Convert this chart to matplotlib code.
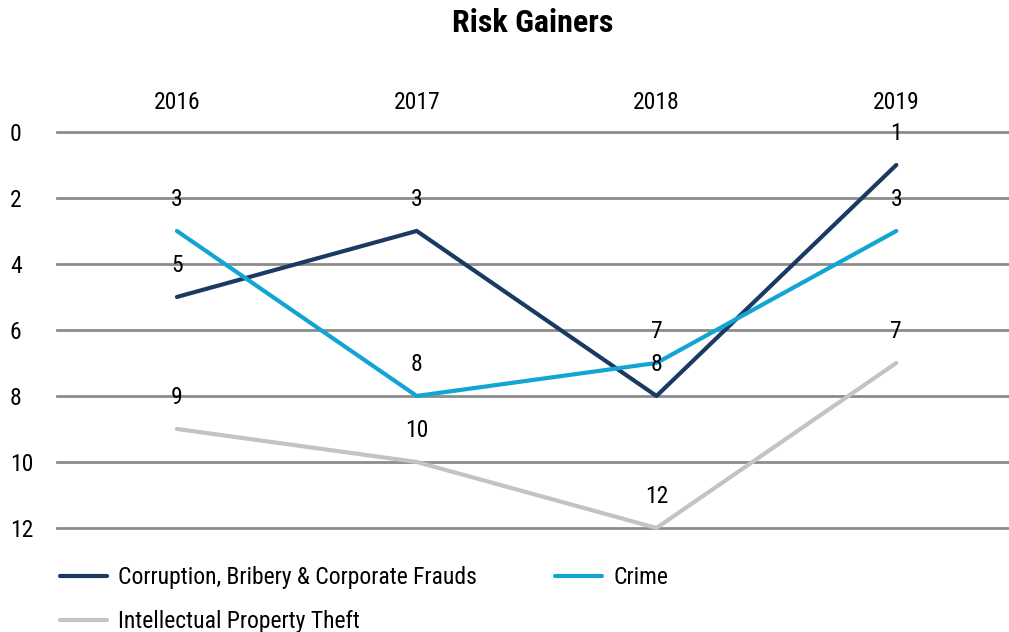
import numpy as np
import matplotlib
matplotlib.use('Agg')
import matplotlib.pyplot as plt
from matplotlib import font_manager

# pick a narrow/condensed face if one is installed
fam, stretch = 'Roboto', 'normal'
for f in font_manager.fontManager.ttflist:
    if f.name in ('Roboto Condensed', 'Liberation Sans Narrow'):
        fam, stretch = f.name, 'normal'
        break
else:
    for f in font_manager.fontManager.ttflist:
        if f.name == 'DejaVu Sans' and 'condensed' in str(f.stretch):
            fam, stretch = 'DejaVu Sans', 'condensed'
            break
plt.rcParams['font.family'] = [fam, 'DejaVu Sans']
plt.rcParams['font.stretch'] = stretch
narrow = fam != 'Roboto'
fs = 17 if narrow else 15.5

years = ['2016', '2017', '2018', '2019']
corruption = [5, 3, 8, 1]
crime = [3, 8, 7, 3]
ip_theft = [9, 10, 12, 7]
series_names = ['Corruption, Bribery & Corporate Frauds', 'Crime', 'Intellectual Property Theft']
colors = ['#1b3a63', '#12a5d3', '#c3c3c7']

fig = plt.figure(figsize=(10.09, 6.32), dpi=100)
ax = fig.add_axes([0.0565, 0.1646, 0.9435, 0.6266])

x = np.arange(len(years))
lines = []
for vals, name, c in zip([corruption, crime, ip_theft], series_names, colors):
    ln, = ax.plot(x, vals, color=c, lw=3, label=name, solid_capstyle='round', zorder=3)
    ln.set_clip_on(False)
    lines.append(ln)
    for xi, v in zip(x, vals):
        ax.annotate(str(v), (xi, v), xytext=(0, 23), textcoords='offset points',
                    ha='center', va='center', fontsize=fs, zorder=4)

ax.set_xlim(-0.5, 3.47)
ax.set_ylim(12, 0)
ax.set_yticks(range(0, 13, 2))
ax.set_xticks(x)
ax.set_xticklabels(years)
ax.xaxis.tick_top()
ax.tick_params(axis='both', length=0, labelsize=fs)
ax.tick_params(axis='y', pad=34)
ax.tick_params(axis='x', pad=13)
for t in ax.get_yticklabels():
    t.set_ha('left')
ax.grid(axis='y', color='#8c8c8c', lw=2)
for gl in ax.get_ygridlines():
    gl.set_clip_on(False)
ax.set_axisbelow(True)
for s in ax.spines.values():
    s.set_visible(False)

ax.set_title('Risk Gainers', fontsize=23 if narrow else 19, fontweight='bold', pad=72)

# order so that rows read: corruption, crime / ip theft
order = [0, 2, 1]
fig.legend([lines[i] for i in order], [series_names[i] for i in order],
           loc='lower left', bbox_to_anchor=(0.0595, -0.002), ncol=2, frameon=False,
           borderaxespad=0, borderpad=0,
           fontsize=fs, handlelength=2.0, columnspacing=3.3, labelspacing=0.9,
           handletextpad=0.47)

plt.savefig('out.png', dpi=100)
